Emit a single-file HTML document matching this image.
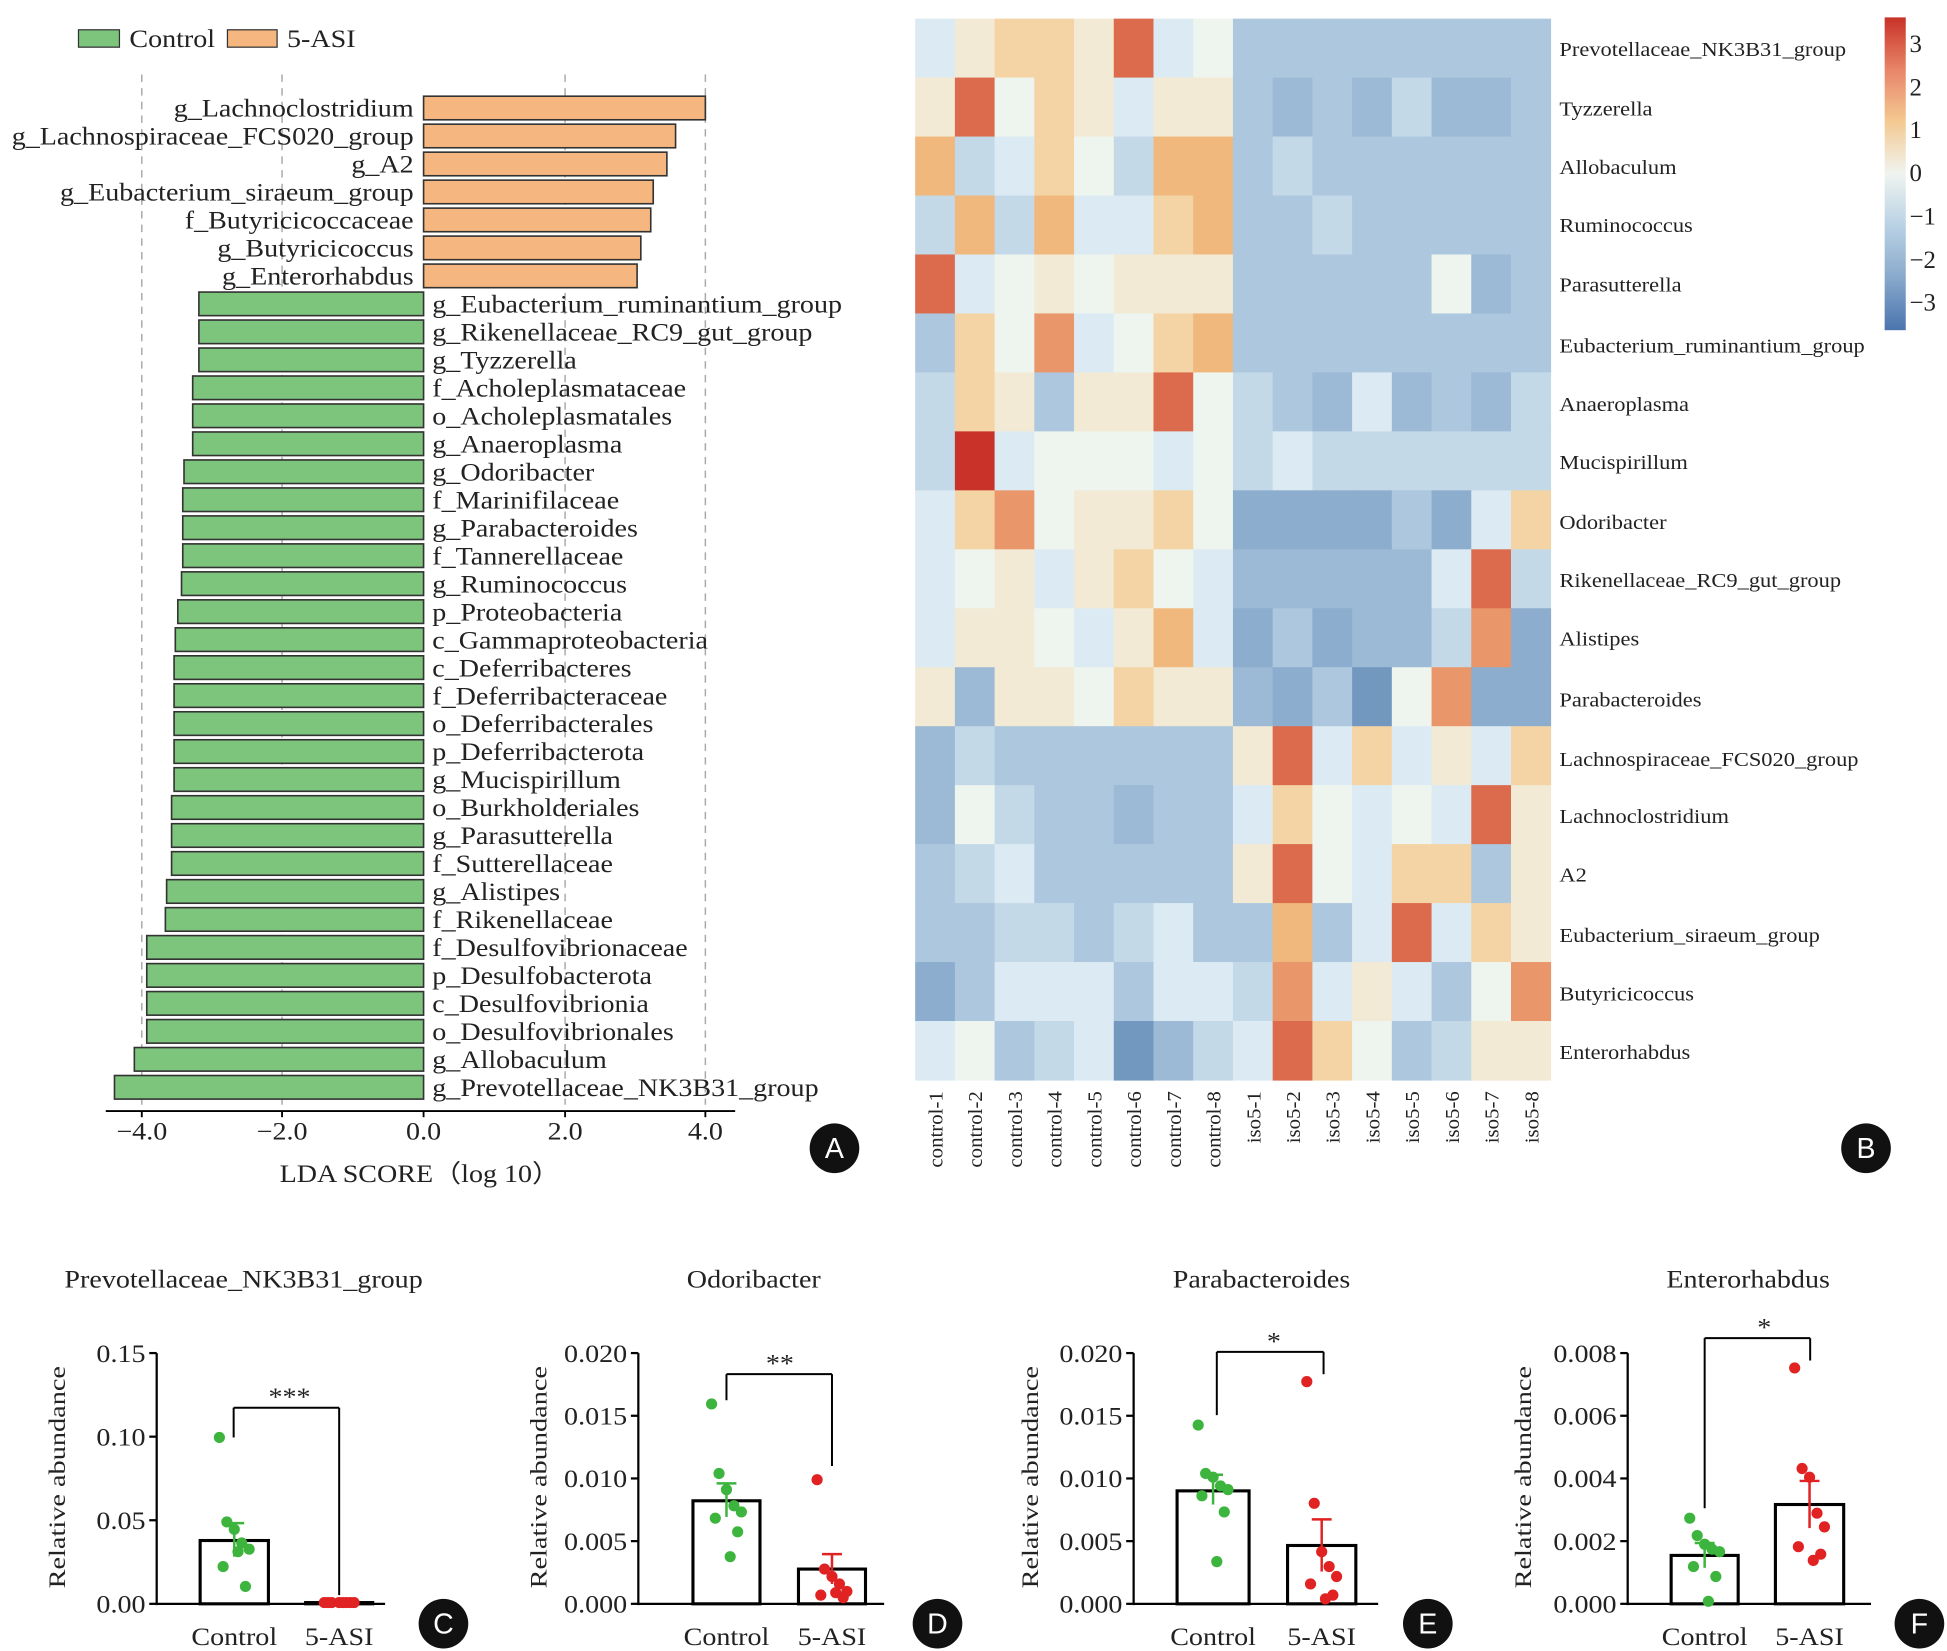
<!DOCTYPE html>
<html><head><meta charset="utf-8"><style>
html,body{margin:0;padding:0;background:#fff;}
svg{display:block;}
text{font-family:"Liberation Serif",serif;fill:#222;}
</style></head><body>
<svg id="s" width="1947" height="1651" viewBox="0 0 1568 1330" xmlns="http://www.w3.org/2000/svg"></svg>
<script>
const s=document.getElementById('s');let h='';
const SX=1.13;
function T(x,y,t,sz,anc,rot,sx){sx=sx||SX;h+=`<g transform="translate(${x} ${y})${rot?' rotate(-90)':''} scale(${sx} 1)"><text x="0" y="0" font-size="${sz}" text-anchor="${anc||'start'}">${t}</text></g>`;}
function R(x,y,w,hh,f,st,sw){h+=`<rect x="${x}" y="${y}" width="${w}" height="${hh}" fill="${f}" ${st?`stroke="${st}" stroke-width="${sw||1}"`:''}/>`;}
function L(x1,y1,x2,y2,c,w,d){h+=`<line x1="${x1}" y1="${y1}" x2="${x2}" y2="${y2}" stroke="${c||'#000'}" stroke-width="${w||1.5}" ${d?`stroke-dasharray="${d}"`:''}/>`;}
function C(x,y,r,f){h+=`<circle cx="${x}" cy="${y}" r="${r}" fill="${f}"/>`;}
// Panel A
R(63,24,33,14,'#7dc47d','#333',1);T(104,38,'Control',20);
R(183,24,40,14,'#f5b77f','#333',1);T(231,38,'5-ASI',20);
[114,227,455,568].forEach(x=>L(x,60,x,890,'#aaa',1.2,'6,5'));
const orange=[['g_Lachnoclostridium',568],['g_Lachnospiraceae_FCS020_group',544],['g_A2',537],['g_Eubacterium_siraeum_group',526],['f_Butyricicoccaceae',524],['g_Butyricicoccus',516],['g_Enterorhabdus',513]];
const green=[['g_Eubacterium_ruminantium_group',160],['g_Rikenellaceae_RC9_gut_group',160],['g_Tyzzerella',160],['f_Acholeplasmataceae',155],['o_Acholeplasmatales',155],['g_Anaeroplasma',155],['g_Odoribacter',148],['f_Marinifilaceae',147],['g_Parabacteroides',147],['f_Tannerellaceae',147],['g_Ruminococcus',146],['p_Proteobacteria',143],['c_Gammaproteobacteria',141],['c_Deferribacteres',140],['f_Deferribacteraceae',140],['o_Deferribacterales',140],['p_Deferribacterota',140],['g_Mucispirillum',140],['o_Burkholderiales',138],['g_Parasutterella',138],['f_Sutterellaceae',138],['g_Alistipes',134],['f_Rikenellaceae',133],['f_Desulfovibrionaceae',118],['p_Desulfobacterota',118],['c_Desulfovibrionia',118],['o_Desulfovibrionales',118],['g_Allobaculum',108],['g_Prevotellaceae_NK3B31_group',92]];
const pitch=22.54;
orange.forEach((o,i)=>{const y=87+i*pitch;R(341,y-9.5,o[1]-341,19,'#f5b77f','#333',1.3);T(333,y+7,o[0],20,'end');});
green.forEach((g,i)=>{const y=87+(i+7)*pitch;R(g[1],y-9.5,341-g[1],19,'#7dc47d','#333',1.3);T(348,y+7,g[0],20);});
L(85,895,592,895,'#000',1.5);
[[114,'−4.0'],[227,'−2.0'],[341,'0.0'],[455,'2.0'],[568,'4.0']].forEach(t=>{L(t[0],895,t[0],900,'#000',1.5);T(t[0],918,t[1],20,'middle');});
T(338,952,'LDA SCORE（log 10）',20,'middle');
// Heatmap
const col={R:'#c83228',r:'#dc6a4c',o:'#e8966a',O:'#f0b87c',p:'#f4d4a4',c:'#f2ead4',w:'#eef5ee',L:'#dcebf3',l:'#c4d9e7',b:'#adc7de',B:'#9cb9d5',D:'#8cadcd',X:'#7398c0'};
const rows=['LcppcrLwbbbbbbbb','crwpcLccbBbBlBBb','OlLpwlOOblbbbbbb','lOlOLLpObblbbbbb','rLwcwcccbbbbbwBb','bpwoLwpObbbbbbbb','lpcbccrwlbBLBbBl','lRLwwwLwlLllllll','LpowccpwDDDDbDLp','LwcLcpwLBBBBBLrl','LccwLcOLDbDBBloD','cBccwpccBDbXwoDD','BlbbbbbbcrLpLcLp','BwlbbBbbLpwLwLrc','blLbbbbbcrwLppbc','bbllblLbbObLrLpc','DbLLLbLLloLcLbwo','LwblLXBlLrpwblcc'];
const names=['Prevotellaceae_NK3B31_group','Tyzzerella','Allobaculum','Ruminococcus','Parasutterella','Eubacterium_ruminantium_group','Anaeroplasma','Mucispirillum','Odoribacter','Rikenellaceae_RC9_gut_group','Alistipes','Parabacteroides','Lachnospiraceae_FCS020_group','Lachnoclostridium','A2','Eubacterium_siraeum_group','Butyricicoccus','Enterorhabdus'];
rows.forEach((r,i)=>{r.split('').forEach((c,j)=>R(737+j*32,15+i*47.5,32.3,48,col[c]||'#eee'));});
const ly=[39,87,134,181,229,278,325,372,420,467,514,563,611,657,704,753,800,847];
names.forEach((n,i)=>T(1256,ly[i]+6,n,16));
const cn=['control-1','control-2','control-3','control-4','control-5','control-6','control-7','control-8','iso5-1','iso5-2','iso5-3','iso5-4','iso5-5','iso5-6','iso5-7','iso5-8'];
cn.forEach((n,j)=>{const x=753+j*32+6;T(x,879,n,16,'end',true,1.05);});
h+=`<defs><linearGradient id="cb" x1="0" y1="0" x2="0" y2="1"><stop offset="0" stop-color="#c83228"/><stop offset=".17" stop-color="#e8866a"/><stop offset=".33" stop-color="#f4c890"/><stop offset=".5" stop-color="#f0f4f0"/><stop offset=".67" stop-color="#b8d0e4"/><stop offset=".83" stop-color="#8aaacc"/><stop offset="1" stop-color="#4a74ae"/></linearGradient></defs>`;
R(1518,14,17,252,'url(#cb)');
[['3',35],['2',70],['1',104],['0',139],['−1',174],['−2',209],['−3',243]].forEach(t=>T(1538,t[1]+7,t[0],20,'start',false,1));
// circle labels
[['A',672,925],['B',1503,925],['C',357,1308],['D',755,1308],['E',1150,1308],['F',1546,1308]].forEach(c=>{C(c[1],c[2],20,'#111');h+=`<text x="${c[1]}" y="${c[2]+8}" font-size="23" text-anchor="middle" style="fill:#fff;font-family:'Liberation Sans',sans-serif">${c[0]}</text>`;});
// bottom panels
const P=[
 {t:'Prevotellaceae_NK3B31_group',tx:196,ax:126,xr:310,yl:52,ticks:['0.15','0.10','0.05','0.00'],b1:[161,216,1241,1227,1254],b2:[246,300,1291,1291,1291],br:[188,273,1134,1158,1285],st:'***',stx:233,p1:[1158,1226,1232,1243,1248,1262,1278,1250],p2:[1291,1291,1291,1291,1291,1291,1291,1291]},
 {t:'Odoribacter',tx:607,ax:514,xr:712,yl:440,ticks:['0.020','0.015','0.010','0.005','0.000'],b1:[558,612,1209,1195,1222],b2:[643,697,1264,1252,1276],br:[585,670,1107,1128,1181],st:'**',stx:628,p1:[1131,1187,1200,1213,1218,1223,1234,1254],p2:[1192,1264,1270,1276,1282,1285,1287,1283]},
 {t:'Parabacteroides',tx:1016,ax:913,xr:1110,yl:836,ticks:['0.020','0.015','0.010','0.005','0.000'],b1:[948,1006,1201,1188,1212],b2:[1037,1092,1245,1224,1266],br:[980,1066,1089,1140,1107],st:'*',stx:1026,p1:[1148,1187,1190,1197,1200,1205,1218,1258],p2:[1113,1211,1250,1262,1270,1276,1285,1288]},
 {t:'Enterorhabdus',tx:1408,ax:1311,xr:1507,yl:1233,ticks:['0.008','0.006','0.004','0.002','0.000'],b1:[1346,1400,1253,1243,1263],b2:[1430,1485,1212,1193,1231],br:[1373,1458,1078,1215,1096],st:'*',stx:1421,p1:[1223,1237,1244,1248,1250,1262,1270,1290],p2:[1102,1183,1190,1219,1230,1246,1252,1257]}];
const offs=[-12,-6,0,6,12,-9,9,3];
P.forEach(p=>{
 T(p.tx,1037,p.t,20,'middle');
 L(p.ax,1090,p.ax,1293,'#000',1.8);L(p.ax,1292,p.xr,1292,'#000',1.8);
 const n=p.ticks.length;p.ticks.forEach((t,i)=>{const y=1090+i*202/(n-1);L(p.ax-6,y,p.ax,y,'#000',1.8);T(p.ax-9,y+7,t,20,'end');});
 T(p.yl,1190,'Relative abundance',19,'middle',true,1.2);
 [p.b1,p.b2].forEach((b,k)=>{const cx=(b[0]+b[1])/2;R(b[0],b[2],b[1]-b[0],1292-b[2],'#fff','#000',2.5);
  const pts=k?p.p2:p.p1;pts.forEach((y,i)=>C(cx+offs[i],y,4.5,k?'#e02222':'#3db43d'));
  L(cx,b[3],cx,b[4],k?'#e02222':'#3db43d',2);L(cx-8,b[3],cx+8,b[3],k?'#e02222':'#3db43d',2);
  T(cx,1325,k?'5-ASI':'Control',20,'middle');});
 const br=p.br;L(br[0],br[2],br[1],br[2],'#000',1.6);L(br[0],br[2],br[0],br[3],'#000',1.6);L(br[1],br[2],br[1],br[4],'#000',1.6);
 T(p.stx,br[2]-2,p.st,20,'middle');
});
s.innerHTML=h;
</script>
</body></html>
